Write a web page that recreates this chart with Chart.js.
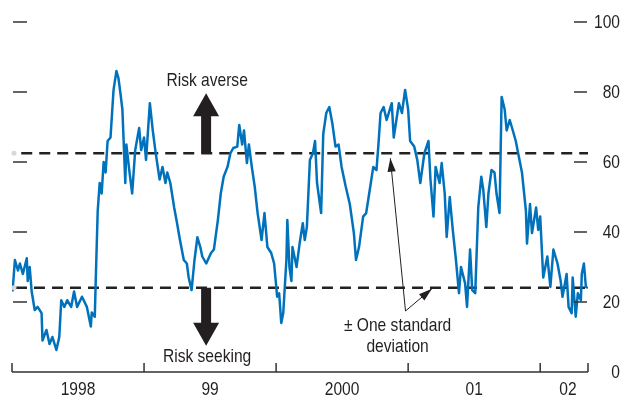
<!DOCTYPE html>
<html>
<head>
<meta charset="utf-8">
<script src="https://cdn.jsdelivr.net/npm/chart.js@4.4.1/dist/chart.umd.min.js"></script>
<style>
  html, body { margin: 0; padding: 0; background: #fff; }
  #wrap { width: 624px; height: 400px; }
</style>
</head>
<body>
<div id="wrap"><canvas id="mychart" width="624" height="400"></canvas></div>
<script>
// dates as decimal years, values of the index
const dates = [
  1998.004, 1998.022, 1998.045, 1998.060, 1998.082, 1998.112, 1998.119, 1998.134, 1998.149, 1998.172,
  1998.194, 1998.224, 1998.231, 1998.261, 1998.284, 1998.306, 1998.336, 1998.358, 1998.373, 1998.396,
  1998.418, 1998.448, 1998.470, 1998.493, 1998.530, 1998.567, 1998.597, 1998.604, 1998.627, 1998.634,
  1998.649, 1998.664, 1998.679, 1998.694, 1998.709, 1998.724, 1998.746, 1998.769, 1998.791, 1998.806,
  1998.821, 1998.836, 1998.858, 1998.866, 1998.888, 1998.910, 1998.933, 1998.963, 1998.978, 1999.000,
  1999.015, 1999.044, 1999.066, 1999.088, 1999.118, 1999.140, 1999.162, 1999.176, 1999.199, 1999.228,
  1999.250, 1999.272, 1999.301, 1999.324, 1999.338, 1999.360, 1999.382, 1999.404, 1999.426, 1999.441,
  1999.471, 1999.507, 1999.529, 1999.559, 1999.581, 1999.603, 1999.632, 1999.654, 1999.676, 1999.706,
  1999.721, 1999.743, 1999.757, 1999.779, 1999.794, 1999.816, 1999.838, 1999.860, 1999.890, 1999.912,
  1999.934, 1999.963, 1999.985, 2000.008, 2000.023, 2000.039, 2000.054, 2000.078, 2000.085, 2000.101,
  2000.116, 2000.124, 2000.155, 2000.178, 2000.202, 2000.217, 2000.233, 2000.256, 2000.279, 2000.295,
  2000.310, 2000.341, 2000.357, 2000.380, 2000.403, 2000.426, 2000.450, 2000.473, 2000.496, 2000.527,
  2000.558, 2000.589, 2000.605, 2000.628, 2000.659, 2000.682, 2000.705, 2000.736, 2000.760, 2000.775,
  2000.791, 2000.814, 2000.837, 2000.876, 2000.891, 2000.930, 2000.953, 2000.977, 2001.000, 2001.015,
  2001.046, 2001.069, 2001.092, 2001.123, 2001.154, 2001.169, 2001.192, 2001.208, 2001.238, 2001.254,
  2001.277, 2001.292, 2001.315, 2001.338, 2001.362, 2001.385, 2001.400, 2001.431, 2001.446, 2001.469,
  2001.485, 2001.508, 2001.531, 2001.554, 2001.569, 2001.592, 2001.608, 2001.631, 2001.654, 2001.669,
  2001.692, 2001.708, 2001.731, 2001.746, 2001.769, 2001.785, 2001.815, 2001.838, 2001.862, 2001.892,
  2001.900, 2001.923, 2001.938, 2001.969, 2001.985, 2002.000, 2002.023, 2002.054, 2002.077, 2002.100,
  2002.131, 2002.154, 2002.169, 2002.200, 2002.215, 2002.238, 2002.246, 2002.269, 2002.285, 2002.308,
  2002.315, 2002.331, 2002.346, 2002.362
];
const values = [
  23, 32, 29, 31, 28, 32.5, 26, 30, 23, 17.7,
  18.6, 16.8, 9, 12, 8, 10, 6.3, 10, 20.5, 18.6,
  20.5, 18.6, 23, 18.6, 21.5, 18.6, 13, 17, 15.8, 26,
  46, 54, 51, 60, 57, 66, 67, 80.6, 86, 84,
  79.7, 75, 54, 65, 57.7, 51, 63.4, 69.7, 63.4, 67,
  60.6, 76.8, 69, 62.6, 55, 58.6, 54, 57, 54, 47,
  42.5, 37.7, 32, 31, 27, 23.4, 32, 38.5, 35.7, 33,
  31, 34, 35, 43.4, 51, 55.8, 58.6, 62.5, 64, 64.4,
  70.6, 65, 69, 59.7, 65, 58.6, 53, 45.4, 37.7, 45.4,
  35.7, 34, 31, 21.5, 22.5, 14, 16.8, 32, 43.4, 30,
  26, 35.7, 30, 36.7, 42.5, 37.7, 41.4, 60.6, 62.5, 66,
  54, 45.4, 68, 74, 75.7, 71, 64.4, 65, 58.6, 53,
  48, 39.7, 32, 35.7, 44.4, 45.4, 51, 58.6, 57.7, 65,
  74, 75.7, 72, 76.8, 67, 76.8, 74, 80.6, 75, 66,
  64.4, 60.6, 54, 62.5, 66, 55, 44.4, 58.6, 54, 59.7,
  51, 38.6, 50, 40.6, 32, 22.5, 30, 25.4, 18.6, 35,
  23.4, 22.5, 47, 55.8, 52, 41.4, 51, 57.7, 57, 51,
  45.4, 78.6, 75, 69, 72, 70, 66, 61.6, 57, 46,
  36.7, 48, 39.7, 47, 40.6, 44.4, 27, 33, 24.3, 35,
  31, 26.3, 21.5, 28, 18.6, 16.8, 27, 15.8, 22.5, 20.5,
  28, 31, 24.3, 24
];

// plus / minus one standard deviation bands
const upperBand = 62.5;
const lowerBand = 24.1;

const yearTicks = [1998, 1999, 2000, 2001, 2002];
const yearLabels = ['1998', '99', '2000', '01', '02'];
const yearLabelPos = [1998.5, 1999.5, 2000.5, 2001.5, 2002.21];
const yTicks = [0, 20, 40, 60, 80, 100];
const xEnd = 2002.362;

const FONT = '"Liberation Sans", Arial, sans-serif';
const INK = '#231f20';

const points = dates.map((d, i) => ({ x: d, y: values[i] }));

// narrow text, like the condensed face of the original
function label(c, text, x, y) {
  c.save();
  c.translate(x, y);
  c.scale(0.82, 1);
  c.fillText(text, 0, 0);
  c.restore();
}

// axes, ticks, arrows and notes drawn on the canvas
const decorations = {
  id: 'decorations',
  afterDraw(chart) {
    const c = chart.ctx;
    const xs = chart.scales.x;
    const ys = chart.scales.y;
    const area = chart.chartArea;
    c.save();

    // y tick dashes on both sides, labels on the right
    c.strokeStyle = '#333';
    c.lineWidth = 1.5;
    c.fillStyle = INK;
    c.font = '19px ' + FONT;
    c.textAlign = 'right';
    c.textBaseline = 'middle';
    yTicks.forEach((v) => {
      const y = ys.getPixelForValue(v);
      if (v > 0) {
        c.beginPath();
        c.moveTo(area.left + 1, y); c.lineTo(area.left + 15, y);
        c.moveTo(area.right - 14, y); c.lineTo(area.right - 1, y);
        c.stroke();
      }
      label(c, String(v), 620, y + 1);
    });

    // x axis line and year ticks
    const yb = ys.getPixelForValue(0);
    c.beginPath();
    c.moveTo(area.left, yb); c.lineTo(area.right, yb);
    yearTicks.concat([xEnd]).forEach((t) => {
      const x = xs.getPixelForValue(t);
      c.moveTo(x, yb); c.lineTo(x, yb - 9);
    });
    c.stroke();
    c.textAlign = 'center';
    yearLabels.forEach((lab, i) => {
      label(c, lab, xs.getPixelForValue(yearLabelPos[i]), 390);
    });

    // little grey dots at the start of the bands
    c.fillStyle = '#d8d8d8';
    [upperBand, lowerBand].forEach((v) => {
      c.beginPath();
      c.arc(area.left + 2, ys.getPixelForValue(v), 2.5, 0, Math.PI * 2);
      c.fill();
    });

    // big arrows
    const ax = xs.getPixelForValue(1999.47);
    const yu = ys.getPixelForValue(upperBand);
    const yl = ys.getPixelForValue(lowerBand);
    c.fillStyle = '#231f20';
    c.beginPath();
    c.moveTo(ax - 5, yu); c.lineTo(ax - 5, yu - 37); c.lineTo(ax - 13, yu - 37);
    c.lineTo(ax, yu - 60); c.lineTo(ax + 13, yu - 37); c.lineTo(ax + 5, yu - 37);
    c.lineTo(ax + 5, yu); c.closePath(); c.fill();
    c.beginPath();
    c.moveTo(ax - 5, yl); c.lineTo(ax - 5, yl + 35); c.lineTo(ax - 13, yl + 35);
    c.lineTo(ax, yl + 58); c.lineTo(ax + 13, yl + 35); c.lineTo(ax + 5, yl + 35);
    c.lineTo(ax + 5, yl); c.closePath(); c.fill();

    c.fillStyle = INK;
    label(c, 'Risk averse', ax + 1, yu - 72);
    label(c, 'Risk seeking', ax + 1, yl + 69);

    // standard deviation note with thin arrows
    const nx = xs.getPixelForValue(2000.92);
    label(c, '\u00b1 One standard', nx, 326);
    label(c, 'deviation', nx, 347);

    const ox = xs.getPixelForValue(2000.98), oy = 311;
    const tips = [
      [xs.getPixelForValue(2000.865), yu + 5],
      [xs.getPixelForValue(2001.18), yl + 1]
    ];
    c.strokeStyle = INK;
    c.lineWidth = 1;
    tips.forEach(([tx, ty]) => {
      c.beginPath();
      c.moveTo(ox, oy); c.lineTo(tx, ty); c.stroke();
      const ang = Math.atan2(ty - oy, tx - ox);
      c.beginPath();
      c.moveTo(tx, ty);
      c.lineTo(tx - 14 * Math.cos(ang - 0.3), ty - 14 * Math.sin(ang - 0.3));
      c.lineTo(tx - 14 * Math.cos(ang + 0.3), ty - 14 * Math.sin(ang + 0.3));
      c.closePath(); c.fill();
    });

    c.restore();
  }
};

const ctx = document.getElementById('mychart').getContext('2d');
let mychart = new Chart(ctx, {
  type: 'line',
  data: {
    datasets: [
      {
        data: [{ x: 1998.07, y: upperBand }, { x: xEnd, y: upperBand }],
        borderColor: '#222', borderWidth: 2.5, borderDash: [11, 7],
        pointRadius: 0, order: 2
      },
      {
        data: [{ x: 1998.03, y: lowerBand }, { x: xEnd, y: lowerBand }],
        borderColor: '#222', borderWidth: 2.5, borderDash: [11, 7],
        pointRadius: 0, order: 2
      },
      {
        data: points,
        borderColor: '#0072bc', borderWidth: 2.5, tension: 0,
        borderJoinStyle: 'round', pointRadius: 0, order: 1
      }
    ]
  },
  options: {
    responsive: false,
    animation: false,
    layout: { padding: { left: 12, right: 36, top: 22, bottom: 28 } },
    plugins: { legend: { display: false }, tooltip: { enabled: false } },
    scales: {
      x: { type: 'linear', min: 1998, max: xEnd, display: false },
      y: { min: 0, max: 100, display: false }
    }
  },
  plugins: [decorations]
});
</script>
</body>
</html>
